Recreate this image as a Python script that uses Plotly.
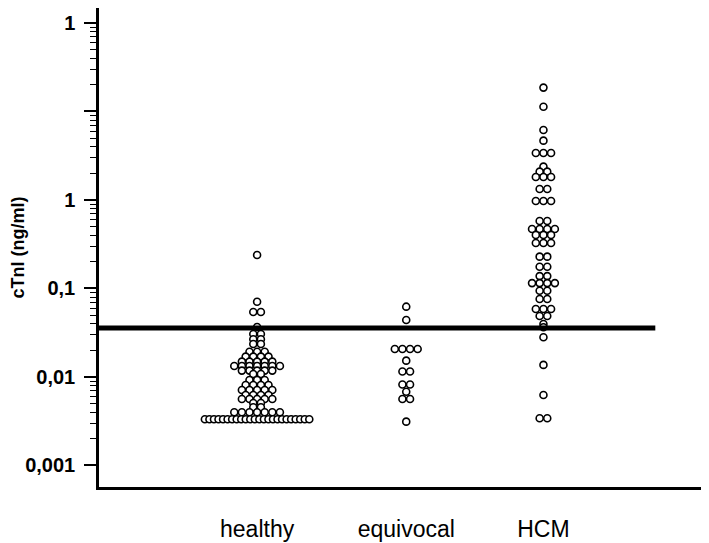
import plotly.graph_objects as go

# ---------------- data ----------------
categories = ["healthy", "equivocal", "HCM"]

healthy = [
    0.239,
    0.0709,
    0.0543, 0.0543,
    0.0367,
    0.0306, 0.0306,
    0.0267, 0.0267,
    0.0236, 0.0236,
    0.0193, 0.0193, 0.0193,
    0.0170, 0.0170, 0.0170, 0.0170,
    0.0149, 0.0149, 0.0149, 0.0149, 0.0149,
    0.0133, 0.0133, 0.0133, 0.0133, 0.0133, 0.0133, 0.0133,
    0.0118, 0.0118, 0.0118, 0.0118, 0.0118,
    0.0108, 0.0108,
    0.00925, 0.00925, 0.00925,
    0.00812, 0.00812, 0.00812, 0.00812,
    0.00713, 0.00713, 0.00713, 0.00713, 0.00713,
    0.00626, 0.00626, 0.00626, 0.00626,
    0.00564, 0.00564, 0.00564, 0.00564, 0.00564,
    0.00508, 0.00508,
    0.00455, 0.00455,
    0.00399, 0.00399, 0.00399, 0.00399, 0.00399, 0.00399, 0.00399,
    0.00333, 0.00333, 0.00333, 0.00333, 0.00333, 0.00333, 0.00333, 0.00333,
    0.00333, 0.00333, 0.00333, 0.00333, 0.00333, 0.00333, 0.00333, 0.00333,
    0.00333, 0.00333, 0.00333, 0.00333, 0.00333, 0.00333, 0.00333, 0.00333,
]

equivocal = [
    0.0623,
    0.0441,
    0.0207, 0.0207, 0.0207, 0.0207,
    0.0153,
    0.01153, 0.01153,
    0.00823, 0.00823,
    0.00682,
    0.00564, 0.00564,
    0.00313,
]

hcm = [
    18.6,
    11.3,
    6.18,
    4.68,
    3.40, 3.40, 3.40,
    2.38,
    2.09, 2.09,
    1.82, 1.82, 1.82,
    1.33, 1.33,
    0.974, 0.974, 0.974,
    0.579, 0.579,
    0.470, 0.470, 0.470, 0.470,
    0.402, 0.402, 0.402,
    0.327, 0.327, 0.327,
    0.229, 0.229,
    0.176, 0.176,
    0.138, 0.138,
    0.115, 0.115, 0.115, 0.115,
    0.0944, 0.0944,
    0.0761, 0.0761,
    0.0587, 0.0587, 0.0587,
    0.0489, 0.0489,
    0.0397,
    0.0364,
    0.0281,
    0.0137,
    0.00626,
    0.00342, 0.00342,
]

cutoff = 0.0358

y_tick_vals = [0.001, 0.01, 0.1, 1, 10, 100]
y_tick_text = ["0,001", "0,01", "0,1", "1", "", "1"]

# ---------------- layout constants ----------------
CAT_POS = [0.0, 1.0, 1.92]
DOT_STEP = 0.051        # horizontal distance between neighbouring dots (x units)
MAX_ROW_WIDTH = 0.70    # widest allowed row of tied values (x units)


def dot_positions(values, centre):
    """Place tied values in a centred row (dot-plot style)."""
    groups = {}
    for v in values:
        groups.setdefault(v, 0)
        groups[v] += 1
    xs, ys = [], []
    for v, n in groups.items():
        step = min(DOT_STEP, MAX_ROW_WIDTH / (n - 1)) if n > 1 else 0
        for i in range(n):
            xs.append(centre + (i - (n - 1) / 2) * step)
            ys.append(v)
    return xs, ys


fig = go.Figure()

for vals, pos in zip([healthy, equivocal, hcm], CAT_POS):
    xs, ys = dot_positions(vals, pos)
    fig.add_trace(go.Scatter(
        x=xs, y=ys, mode="markers",
        marker=dict(symbol="circle", size=7, color="white",
                    line=dict(color="black", width=1.6)),
        hoverinfo="y", showlegend=False,
    ))

fig.add_trace(go.Scatter(
    x=[-1.06, 2.67], y=[cutoff, cutoff], mode="lines",
    line=dict(color="black", width=5), hoverinfo="skip", showlegend=False,
))

minor_vals = [m * 10 ** k for k in range(-3, 2) for m in range(2, 10)]

# the page body adds an 8 px offset, so the figure is 8 px smaller on each axis
fig.update_layout(
    width=701, height=535,
    margin=dict(l=91, r=0, t=0, b=56, autoexpand=False),
    plot_bgcolor="white", paper_bgcolor="white",
    showlegend=False,
    font=dict(family="Arial, Liberation Sans, sans-serif", color="black"),
    xaxis=dict(
        range=[-1.06, 3.03], automargin=False,
        tickmode="array", tickvals=CAT_POS, ticktext=categories,
        showline=True, linecolor="black", linewidth=2.5,
        ticks="", showgrid=False, zeroline=False,
        tickfont=dict(size=23, color="black"),
        ticklabelstandoff=20,
    ),
    yaxis=dict(
        type="log", range=[-3.243, 2.169], automargin=False,
        tickmode="array", tickvals=y_tick_vals, ticktext=y_tick_text,
        ticks="outside", ticklen=12, tickwidth=1.5, tickcolor="black",
        showline=True, linecolor="black", linewidth=2.5,
        showgrid=False, zeroline=False,
        tickfont=dict(size=20, color="black", weight="bold"),
        ticklabelstandoff=5,
        minor=dict(tickmode="array", tickvals=minor_vals, ticks="outside",
                   ticklen=6, tickwidth=1.2, tickcolor="black", showgrid=False),
        title=dict(text="cTnI (ng/ml)", standoff=6,
                   font=dict(size=18, color="black", weight="bold")),
    ),
)

fig.write_html("out.html")
